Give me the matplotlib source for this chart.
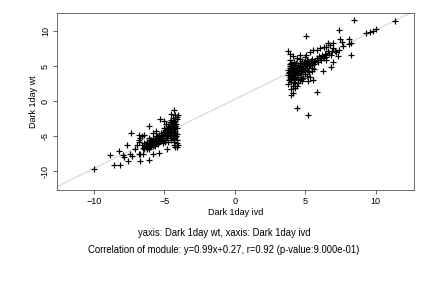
import matplotlib
matplotlib.use('Agg')
import matplotlib.pyplot as plt

plt.rcParams['font.family'] = ['Liberation Sans', 'DejaVu Sans']

# fitted line of the module
SLOPE = 0.99
INTERCEPT = 0.27

# lower cluster (negative values)
low_x = [-10.0, -8.82, -8.59, -8.12, -8.24, -7.95, -7.88, -7.64, -7.57, -7.41,
         -7.29, -7.36, -7.1, -6.82, -6.7, -6.7, -6.94, -6.82, -6.1, -5.3,
         -4.5, -4.3, -4.0, -4.1, -4.8, -5.4, -5.8, -6.1, -6.5, -6.7,
         -6.8, -6.4, -6.1, -6.8, -5.1, -5.6, -5.0, -5.8, -6.6,
         -4.1, -4.2, -4.15, -4.3, -4.4, -4.2, -4.1, -4.3, -4.5, -4.2,
         -4.4, -4.1, -4.3, -4.5, -4.6, -4.2, -4.4, -4.1, -4.3, -4.6,
         -4.7, -4.8, -4.7, -4.9, -4.8, -5.0, -5.0, -5.1, -5.2, -5.3,
         -5.4, -5.5, -5.2, -5.6, -5.7, -5.8, -5.9, -6.0, -6.1, -6.2,
         -6.3, -6.4, -6.5, -6.6, -6.0, -6.2, -5.8, -5.6, -5.4, -5.0,
         -4.9, -4.6, -4.5, -4.4, -4.2, -4.5, -4.7, -4.3, -4.2, -4.0,
         -4.25, -4.35, -4.15, -4.45, -4.55, -4.65, -4.75, -4.85, -4.95, -5.05,
         -5.15, -5.25, -5.35, -5.45, -5.55, -5.65, -5.75, -5.85, -5.95, -6.05,
         -4.1, -4.2, -4.3, -4.4, -4.1, -4.2, -4.3, -4.5, -4.6, -4.8,
         -6.3, -6.15, -5.95, -5.7, -5.5, -5.3, -5.1, -4.9, -4.7, -4.5,
         -6.4, -6.25, -6.05, -5.9, -5.65, -5.45, -5.2, -4.95, -4.8, -4.6]
low_y = [-9.71, -7.62, -9.05, -9.05, -7.14, -7.62, -7.95, -6.29, -8.57, -7.48,
         -7.86, -4.48, -6.9, -4.86, -5.19, -7.6, -6.29, -5.81, -3.6, -2.5,
         -1.8, -1.2, -2.0, -6.5, -6.9, -7.4, -7.5, -8.4, -7.6, -8.5,
         -7.6, -4.9, -5.3, -5.6, -6.0, -4.3, -2.9, -4.6, -5.0,
         -2.3, -2.8, -3.2, -3.0, -3.4, -3.6, -3.9, -4.0, -3.8, -4.3,
         -4.5, -4.7, -4.9, -4.2, -4.6, -5.1, -5.3, -5.5, -5.8, -5.0,
         -3.5, -4.0, -4.4, -4.8, -5.2, -4.4, -3.8, -5.0, -4.6, -5.2,
         -4.8, -5.4, -5.6, -5.0, -5.8, -5.3, -6.1, -5.6, -6.3, -5.9,
         -6.5, -6.0, -6.7, -6.2, -6.6, -6.9, -6.4, -6.0, -5.9, -5.5,
         -3.3, -3.0, -2.7, -2.4, -2.0, -5.6, -5.8, -6.2, -6.5, -6.3,
         -3.5, -4.4, -5.0, -3.1, -4.0, -3.7, -4.9, -4.3, -4.1, -4.7,
         -5.3, -4.9, -5.6, -5.1, -5.7, -5.4, -6.1, -5.7, -6.4, -6.0,
         -2.6, -3.3, -3.7, -4.8, -6.0, -4.6, -5.4, -3.5, -4.9, -4.5,
         -6.1, -6.6, -5.5, -6.3, -5.0, -5.7, -4.5, -5.2, -4.0, -4.8,
         -6.8, -6.4, -6.9, -5.9, -6.4, -6.1, -5.3, -5.8, -4.6, -4.0]

# upper cluster (positive values)
up_x = [8.47, 11.35, 9.29, 9.58, 9.81, 10.05, 7.38, 5.05, 3.79, 8.11,
        8.21, 7.45, 7.61, 8.25, 6.98, 6.74, 6.45, 6.27, 6.86, 6.98,
        5.85, 4.43, 5.21, 3.98, 4.1, 4.27, 4.39, 5.56, 5.21, 5.45,
        5.33, 4.86, 4.62, 4.62, 5.02, 5.33, 5.56, 5.85, 6.04, 6.32,
        6.62, 7.2, 7.4, 7.0, 6.6, 7.7, 8.1, 7.3, 6.5,
        3.8, 3.9, 3.8, 3.9, 4.0, 3.8, 4.0, 4.1, 4.0, 3.9,
        4.1, 4.2, 4.2, 4.3, 4.2, 4.3, 4.4, 4.4, 4.5, 4.5,
        4.6, 4.6, 4.7, 4.7, 4.8, 4.8, 4.9, 5.0, 5.0, 5.1,
        5.2, 5.3, 5.4, 5.5, 5.6, 5.7, 5.8, 5.9, 6.0, 6.1,
        6.2, 6.3, 6.4, 6.5, 5.5, 5.2, 5.0, 4.6, 4.4, 4.1,
        3.9, 4.3, 4.1, 4.0, 4.5, 4.8, 5.1, 5.3, 5.6, 4.2,
        3.85, 4.05, 4.25, 4.35, 4.55, 4.75, 4.15, 3.95, 4.45, 4.65,
        4.85, 5.05, 5.25, 5.45, 5.65, 5.85, 6.05, 6.25, 6.45, 6.7,
        6.9, 7.1, 6.8, 3.85, 3.95, 4.05, 4.15, 3.9, 4.0, 4.2,
        3.85, 4.0, 4.15, 4.3, 4.45, 4.6, 4.75, 4.9, 5.1, 5.35,
        3.9, 4.05, 4.2, 4.35, 4.5, 4.65, 4.8, 4.95, 5.15, 5.4]
up_y = [11.57, 11.43, 9.67, 9.81, 10.04, 10.24, 10.14, 9.33, 7.14, 8.86,
        8.38, 8.81, 8.47, 6.57, 8.33, 8.0, 7.76, 4.33, 4.9, 5.62,
        1.33, -0.96, -2.0, 0.86, 1.19, 1.81, 2.14, 3.0, 2.9, 4.24,
        3.47, 3.24, 3.0, 6.57, 6.57, 7.04, 7.29, 7.29, 7.53, 7.76,
        8.24, 7.0, 7.3, 7.6, 7.2, 7.9, 8.1, 6.5, 5.9,
        4.5, 5.0, 3.8, 3.2, 2.8, 2.5, 4.1, 4.7, 5.4, 5.9,
        3.5, 3.0, 4.3, 4.9, 5.6, 2.6, 3.8, 4.5, 5.1, 3.2,
        4.0, 5.5, 4.6, 3.5, 5.0, 4.2, 5.6, 4.8, 3.9, 5.3,
        5.8, 5.0, 5.5, 6.0, 5.3, 5.8, 6.2, 5.6, 6.4, 5.9,
        6.6, 6.1, 6.8, 6.3, 4.8, 4.3, 6.3, 6.0, 6.2, 6.4,
        6.7, 3.3, 2.2, 1.8, 2.6, 2.9, 3.6, 4.1, 4.6, 3.9,
        4.2, 4.8, 5.2, 4.1, 4.7, 5.3, 3.7, 3.5, 3.5, 4.3,
        4.6, 5.1, 5.4, 5.1, 5.6, 5.9, 6.1, 6.3, 6.6, 6.9,
        7.1, 7.2, 6.6, 3.0, 4.4, 3.6, 4.9, 5.3, 3.3, 4.6,
        4.0, 3.4, 4.5, 3.7, 4.8, 4.4, 5.7, 4.5, 5.9, 5.2,
        4.8, 5.2, 2.8, 5.5, 3.9, 5.0, 3.1, 5.4, 4.7, 5.8]

ticks = [-10, -5, 0, 5, 10]
x_label = 'Dark 1day ivd'
y_label = 'Dark 1day wt'
caption1 = 'yaxis: Dark 1day wt, xaxis: Dark 1day ivd'
caption2 = ('Correlation of module: y=%.2fx+%.2f, r=0.92 (p-value:9.000e-01)'
            % (SLOPE, INTERCEPT))

fig = plt.figure(figsize=(6, 4), dpi=72)
ax = fig.add_axes([0.132, 0.340, 0.826, 0.615])

ax.axline((0, INTERCEPT), slope=SLOPE, color='#c8c8c8', lw=0.8, zorder=1)
ax.scatter(low_x + up_x, low_y + up_y, marker='+', s=30, c='black',
           linewidths=1.2, zorder=2)

ax.set_xlim(-12.6, 12.7)
ax.set_ylim(-12.7, 12.6)
ax.set_xticks(ticks)
ax.set_yticks(ticks)
ax.set_yticklabels([str(t) for t in ticks], rotation=90, va='center')
ax.tick_params(direction='out', length=4, width=0.6, labelsize=9, pad=3)
for sp in ax.spines.values():
    sp.set_linewidth(0.7)
    sp.set_color('#333333')

ax.set_xlabel(x_label, fontsize=9, labelpad=2)
ax.set_ylabel(y_label, fontsize=9, labelpad=3)

fig.text(0.518, 0.19, caption1, ha='center', va='center', fontsize=9.5)
fig.text(0.518, 0.132, caption2, ha='center', va='center', fontsize=9.5)

fig.savefig('out.png', dpi=72)
